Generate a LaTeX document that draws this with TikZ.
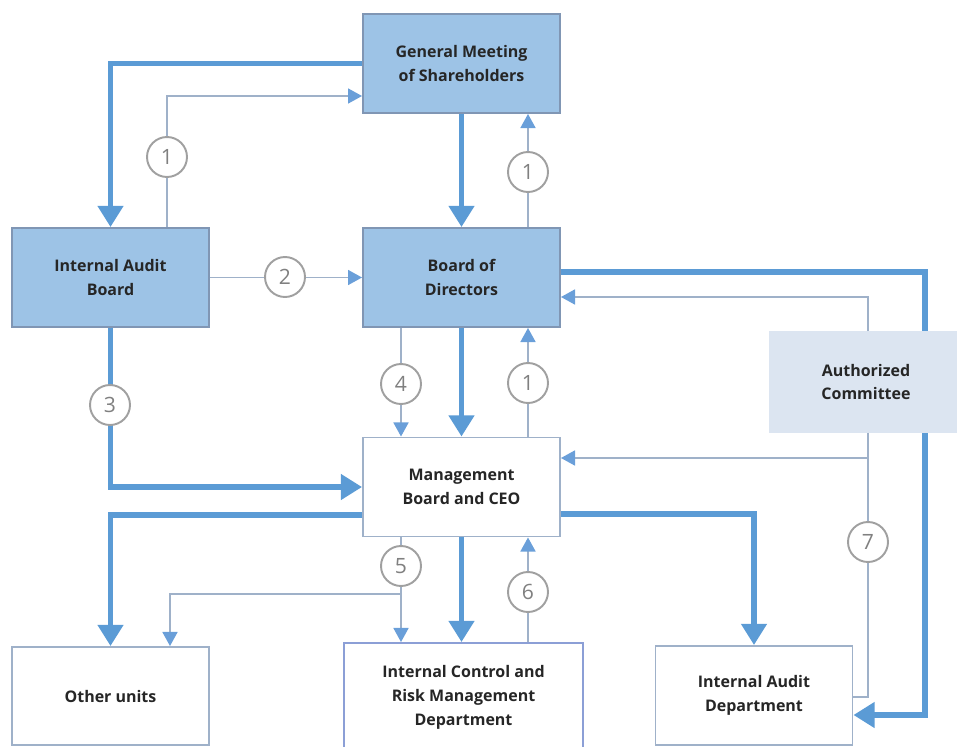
\documentclass[tikz,border=0pt]{standalone}
\usepackage{fontspec}
\setmainfont{Open Sans}
\usetikzlibrary{arrows.meta}

\definecolor{boxblue}{HTML}{9DC3E6}
\definecolor{boxedge}{HTML}{8096B4}
\definecolor{paleblue}{HTML}{DCE5F1}
\definecolor{flowblue}{HTML}{5B9BD5}
\definecolor{linkgray}{HTML}{9FB1C9}
\definecolor{tipblue}{HTML}{6A9FD9}
\definecolor{numgray}{HTML}{808080}
\definecolor{icedge}{HTML}{8C9FD6}

\tikzset{
  unit/.style={draw=boxedge, line width=1.1pt, minimum width=3.94cm, minimum height=1.98cm,
    align=center, inner sep=2pt, font=\bfseries\fontsize{9.1}{13.6}\selectfont, text=black!85},
  body/.style={unit, fill=boxblue},
  plain/.style={unit, fill=white, draw=linkgray},
  major/.style={draw=flowblue, line width=3pt, -{Triangle[length=12pt,width=14pt]}},
  minor/.style={draw=linkgray, line width=1.1pt, -{Triangle[length=8pt,width=8.5pt,color=tipblue]}},
  num/.style={circle, draw=numgray!75, fill=white, line width=1.1pt, minimum size=0.8cm,
    inner sep=0pt, text=numgray, font=\fontsize{12}{12}\selectfont}
}

\begin{document}
\begin{tikzpicture}[x=0.02cm, y=-0.02cm]
  \useasboundingbox (0,0) rectangle (957,747);

  % governing bodies
  \node[body] (gm) at (461.5,63.5) {General Meeting\\of Shareholders};
  \node[body] (iab) at (110.5,277.5) {Internal Audit\\Board};
  \node[body] (bod) at (461.5,277.5) {Board of\\Directors};

  % executive level and units
  \node[plain] (mb) at (461.5,487) {Management\\Board and CEO};
  \node[plain, minimum height=1.96cm] (ou) at (110.5,696) {Other units};
  \node[plain, draw=icedge, minimum width=4.78cm, minimum height=2.16cm] (ic) at (463.5,697)
    {Internal Control and\\Risk Management\\Department};
  \node[plain] (iad) at (754,695.5) {Internal Audit\\Department};

  % lanes for the elbow connectors
  \coordinate (fb) at (167,96);
  \coordinate (up) at (528,0);
  \coordinate (dn) at (401,0);
  \coordinate (rt) at (0,272);
  \coordinate (rb) at (925,715);
  \coordinate (ca) at (868,297);
  \coordinate (cb) at (868,458);
  \coordinate (cc) at (868,697);
  \coordinate (sp) at (401,594);
  \coordinate (ot) at (170,0);
  \coordinate (lo) at (0,515);
  \coordinate (ro) at (0,514);

  % board to audit department, runs behind the committee
  \draw[major] (bod.east |- rt) -| (rb) -- (iad.east |- rb);
  \node[unit, fill=paleblue, draw=paleblue, minimum width=3.84cm, minimum height=2cm] (ac)
    at (866,382) {Authorized\\Committee};

  % main lines of authority
  \draw[major] (gm.west) -| (iab.north);
  \draw[major] (gm.south) -- (bod.north);
  \draw[major] (iab.south) |- (mb.west);
  \draw[major] (bod.south) -- (mb.north);
  \draw[major] (mb.west |- lo) -| (ou.north);
  \draw[major] (mb.south) -- (mb.south |- ic.north);
  \draw[major] (mb.east |- ro) -| (iad.north);

  % reporting lines
  \draw[minor] (iab.north -| fb) |- (gm.west |- fb);
  \draw[minor] (bod.north -| up) -- (gm.south -| up);
  \draw[minor] (iab.east) -- (bod.west);
  \draw[minor] (ac.north -| ca) |- (bod.east |- ca);
  \draw[minor] (bod.south -| dn) -- (mb.north -| dn);
  \draw[minor] (mb.north -| up) -- (bod.south -| up);
  \draw[minor] (cb) -- (mb.east |- cb);
  \draw[minor, -] (ac.south -| cb) -- (cc) -- (iad.east |- cc);
  \draw[minor] (mb.south -| dn) -- (ic.north -| dn);
  \draw[minor] (sp) -| (ou.north -| ot);
  \draw[minor] (ic.north -| up) -- (mb.south -| up);

  % numbered markers
  \node[num] (n1a) at (167,157) {1};
  \node[num] (n1b) at (528,172) {1};
  \node[num] (n2) at (285,277) {2};
  \node[num] (n3) at (110,405) {3};
  \node[num] (n4) at (401,384) {4};
  \node[num] (n1c) at (528,383) {1};
  \node[num] (n5) at (401,566) {5};
  \node[num] (n6) at (528,592) {6};
  \node[num] (n7) at (868,542) {7};
\end{tikzpicture}
\end{document}
